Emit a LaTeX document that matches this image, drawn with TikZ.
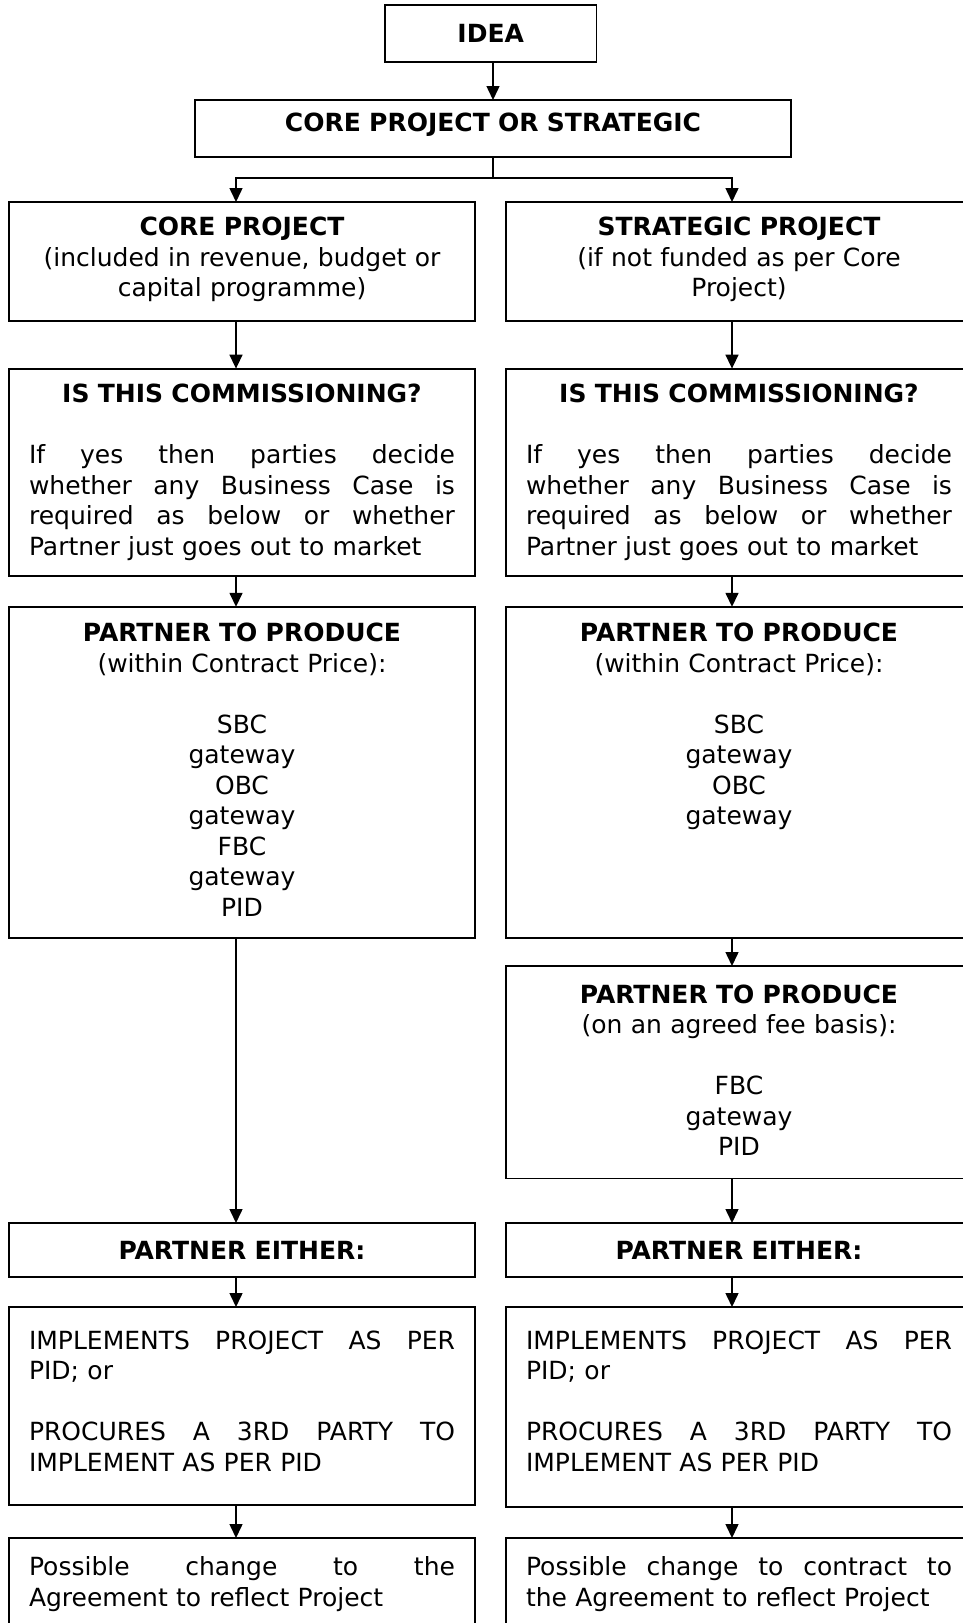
\documentclass[tikz,border=0pt]{standalone}
\usepackage{fontspec}
\setmainfont{DejaVu Sans}
\usetikzlibrary{arrows.meta}
\newcommand{\LLine}[1]{\makebox[426pt][l]{#1}}
\newcommand{\JLine}[1]{\leavevmode\hbox to 426pt{#1}}
\newcommand{\Gp}{\hspace{0pt plus 1fill}}
\tikzset{
  box/.style={draw, line width=1.8pt, anchor=north west, inner sep=0pt, outer sep=0pt},
  txt/.style={anchor=base, text width=426pt, align=center, inner sep=0pt, font=\fontsize{25}{30.5}\selectfont},
  arr/.style={-{Triangle[width=13pt,length=14pt]}, line width=1.5pt},
  lin/.style={line width=1.5pt}
}
\begin{document}
\begin{tikzpicture}[x=1pt,y=-1pt]
\clip (0,0) rectangle (963,1623);
\fill[white] (0,0) rectangle (963,1623);
% x positions of connectors
\coordinate (cl) at (236,0);
\coordinate (cr) at (732,0);
\coordinate (cm) at (493,0);
% top boxes
\node[box, minimum width=211.5pt, minimum height=57pt] (idea) at (385,5) {};
\node[txt, text width=200pt] (ideat) at (490.7,42.2) {\bfseries IDEA};
\node[box, minimum width=596pt, minimum height=57pt] (cps) at (195,100) {};
\node[txt, text width=580pt] (cpst) at (493,131.3) {\bfseries CORE PROJECT OR STRATEGIC};
% left column boxes
\node[box, minimum width=465.7pt, minimum height=119pt] (b1l) at (9.3,202) {};
\node[box, minimum width=465.7pt, minimum height=207pt] (b2l) at (9.3,368.6) {};
\node[box, minimum width=465.7pt, minimum height=331pt] (b3l) at (9.3,606.8) {};
\node[box, minimum width=465.7pt, minimum height=54pt] (b5l) at (9.3,1223) {};
\node[box, minimum width=465.7pt, minimum height=198pt] (b6l) at (9.3,1307) {};
\node[box, minimum width=465.7pt, minimum height=150pt] (b7l) at (9.3,1538) {};
% right column boxes
\node[box, minimum width=466pt, minimum height=119pt] (b1r) at (506,202) {};
\node[box, minimum width=466pt, minimum height=207pt] (b2r) at (506,368.6) {};
\node[box, minimum width=466pt, minimum height=331pt] (b3r) at (506,606.8) {};
\node[box, minimum width=466pt, minimum height=212.4pt] (b4r) at (506,966) {};
\node[box, minimum width=466pt, minimum height=54pt] (b5r) at (506,1223) {};
\node[box, minimum width=466pt, minimum height=200pt] (b6r) at (506,1307) {};
\node[box, minimum width=466pt, minimum height=150pt] (b7r) at (506,1538) {};
% left texts
\node[txt] (t1l) at (242,235.9) {{\bfseries CORE PROJECT}\\(included in revenue, budget or\\capital programme)};
\node[txt] (t2l) at (242,402.6) {{\bfseries IS THIS COMMISSIONING?}\\[30.5pt]
\JLine{If\Gp yes\Gp then\Gp parties\Gp decide}\\
\JLine{whether\Gp any\Gp Business\Gp Case\Gp is}\\
\JLine{required\Gp as\Gp below\Gp or\Gp whether}\\
\LLine{Partner just goes out to market}};
\node[txt] (t3l) at (242,641.8) {{\bfseries PARTNER TO PRODUCE}\\(within Contract Price):\\[30.5pt]SBC\\gateway\\OBC\\gateway\\FBC\\gateway\\PID};
\node[txt] (t5l) at (242,1259) {\bfseries PARTNER EITHER:};
\node[txt] (t6l) at (242,1349) {\JLine{IMPLEMENTS\Gp PROJECT\Gp AS\Gp PER}\\
\LLine{PID; or}\\[30.5pt]
\JLine{PROCURES\Gp A\Gp 3RD\Gp PARTY\Gp TO}\\
\LLine{IMPLEMENT AS PER PID}};
\node[txt] (t7l) at (242,1575.8) {\JLine{Possible\Gp change\Gp to\Gp the}\\
\LLine{Agreement to reflect Project}};
% right texts
\node[txt] (t1r) at (739,235.9) {{\bfseries STRATEGIC PROJECT}\\(if not funded as per Core\\Project)};
\node[txt] (t2r) at (739,402.6) {{\bfseries IS THIS COMMISSIONING?}\\[30.5pt]
\JLine{If\Gp yes\Gp then\Gp parties\Gp decide}\\
\JLine{whether\Gp any\Gp Business\Gp Case\Gp is}\\
\JLine{required\Gp as\Gp below\Gp or\Gp whether}\\
\LLine{Partner just goes out to market}};
\node[txt] (t3r) at (739,641.8) {{\bfseries PARTNER TO PRODUCE}\\(within Contract Price):\\[30.5pt]SBC\\gateway\\OBC\\gateway};
\node[txt] (t4r) at (739,1003.1) {{\bfseries PARTNER TO PRODUCE}\\(on an agreed fee basis):\\[30.5pt]FBC\\gateway\\PID};
\node[txt] (t5r) at (739,1259) {\bfseries PARTNER EITHER:};
\node[txt] (t6r) at (739,1349) {\JLine{IMPLEMENTS\Gp PROJECT\Gp AS\Gp PER}\\
\LLine{PID; or}\\[30.5pt]
\JLine{PROCURES\Gp A\Gp 3RD\Gp PARTY\Gp TO}\\
\LLine{IMPLEMENT AS PER PID}};
\node[txt] (t7r) at (739,1575.8) {\JLine{Possible\Gp change\Gp to\Gp contract\Gp to}\\
\LLine{the Agreement to reflect Project}};
% connectors
\draw[arr] (idea.south -| cm) -- (cps.north -| cm);
\coordinate (j) at (493,178);
\draw[lin] (cps.south -| cm) -- (j);
\draw[arr] (j) -| (b1l.north -| cl);
\draw[arr] (j) -| (b1r.north -| cr);
\draw[arr] (b1l.south -| cl) -- (b2l.north -| cl);
\draw[arr] (b1r.south -| cr) -- (b2r.north -| cr);
\draw[arr] (b2l.south -| cl) -- (b3l.north -| cl);
\draw[arr] (b2r.south -| cr) -- (b3r.north -| cr);
\draw[arr] (b3l.south -| cl) -- (b5l.north -| cl);
\draw[arr] (b3r.south -| cr) -- (b4r.north -| cr);
\draw[arr] (b4r.south -| cr) -- (b5r.north -| cr);
\draw[arr] (b5l.south -| cl) -- (b6l.north -| cl);
\draw[arr] (b5r.south -| cr) -- (b6r.north -| cr);
\draw[arr] (b6l.south -| cl) -- (b7l.north -| cl);
\draw[arr] (b6r.south -| cr) -- (b7r.north -| cr);
\end{tikzpicture}
\end{document}
